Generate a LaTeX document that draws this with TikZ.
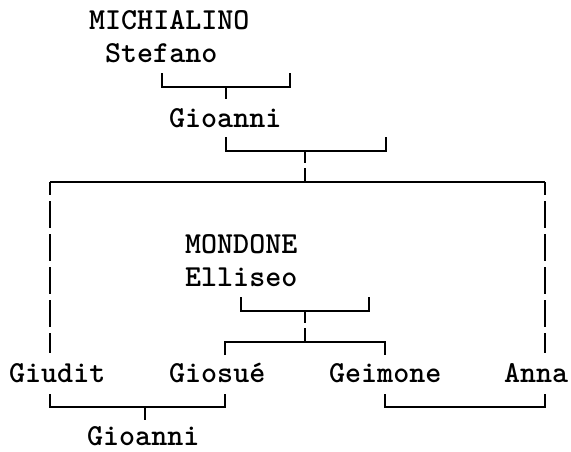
\documentclass[tikz,border=0pt]{standalone}
\usepackage{fontspec}
\begin{document}
\begin{tikzpicture}[x=1pt,y=-1pt,
	person/.style={anchor=base west,inner sep=0pt,font=\ttfamily\bfseries\fontsize{30.5}{34}\selectfont},
	bracket/.style={line width=1.7pt},
	longtie/.style={line width=1.7pt,dash pattern=on 27pt off 6pt,dash phase=14pt},
	stemtie/.style={line width=1.7pt,dash pattern=on 12pt off 5pt on 20pt off 5pt}]
			\useasboundingbox (0,0) rectangle (571,451);

			% Namen
			\node[person] (michialino) at (89,29) {MICHIALINO};
			\node[person] (stefano) at (105,62) {Stefano};
			\node[person] (gioanniA) at (169,127) {Gioanni};
			\node[person] (mondone) at (185,253) {MONDONE};
			\node[person] (elliseo) at (185,286) {Elliseo};
			\node[person] (giudit) at (9,382) {Giudit};
			\node[person] (giosue) at (169,382) {Giosué};
			\node[person] (geimone) at (329,382) {Geimone};
			\node[person] (anna) at (504,382) {Anna};
			\node[person] (gioanniB) at (87,445) {Gioanni};

			\coordinate (S1) at (162,73);
			\coordinate (S2) at (162,87);
			\coordinate (S3) at (290,87);
			\coordinate (S4) at (290,73);
			\coordinate (S5) at (226,87);
			\coordinate (S6) at (226,99);

			\coordinate (G1) at (226,137);
			\coordinate (G2) at (226,151);
			\coordinate (G3) at (386,151);
			\coordinate (G4) at (386,137);
			\coordinate (G5) at (305,151);
			\coordinate (G6) at (305,182);

			\coordinate (F1) at (50,353);
			\coordinate (F2) at (50,182);
			\coordinate (F3) at (545,182);
			\coordinate (F4) at (545,353);

			\coordinate (E1) at (241,297);
			\coordinate (E2) at (241,311);
			\coordinate (E3) at (369,311);
			\coordinate (E4) at (369,297);
			\coordinate (E5) at (305,311);
			\coordinate (E6) at (305,342);

			\coordinate (K1) at (225,355);
			\coordinate (K2) at (225,342);
			\coordinate (K3) at (385,342);
			\coordinate (K4) at (385,355);

			\coordinate (M1) at (50,394);
			\coordinate (M2) at (50,407);
			\coordinate (M3) at (225,407);
			\coordinate (M4) at (225,394);
			\coordinate (M5) at (145,407);
			\coordinate (M6) at (145,420);

			\coordinate (N1) at (385,394);
			\coordinate (N2) at (385,407);
			\coordinate (N3) at (545,407);
			\coordinate (N4) at (545,394);

			% Klammer unter Stefano
			\draw[bracket] (S1) -- (S2) -- (S3) -- (S4);
			\draw[bracket] (S5) -- (S6);

			% Klammer unter Gioanni
			\draw[bracket] (G1) -- (G2) -- (G3) -- (G4);
			\draw[stemtie] (G5) -- (G6);

			% Grosse Klammer
			\draw[bracket] (F2) -- (F3);
			\draw[longtie] (F2) -- (F1);
			\draw[longtie] (F3) -- (F4);

			% Klammer unter Elliseo
			\draw[bracket] (E1) -- (E2) -- (E3) -- (E4);
			\draw[stemtie] (E5) -- (E6);
			\draw[bracket] (K1) -- (K2) -- (K3) -- (K4);

			% Klammern unten
			\draw[bracket] (M1) -- (M2) -- (M3) -- (M4);
			\draw[bracket] (M5) -- (M6);
			\draw[bracket] (N1) -- (N2) -- (N3) -- (N4);

		\end{tikzpicture}
\end{document}
